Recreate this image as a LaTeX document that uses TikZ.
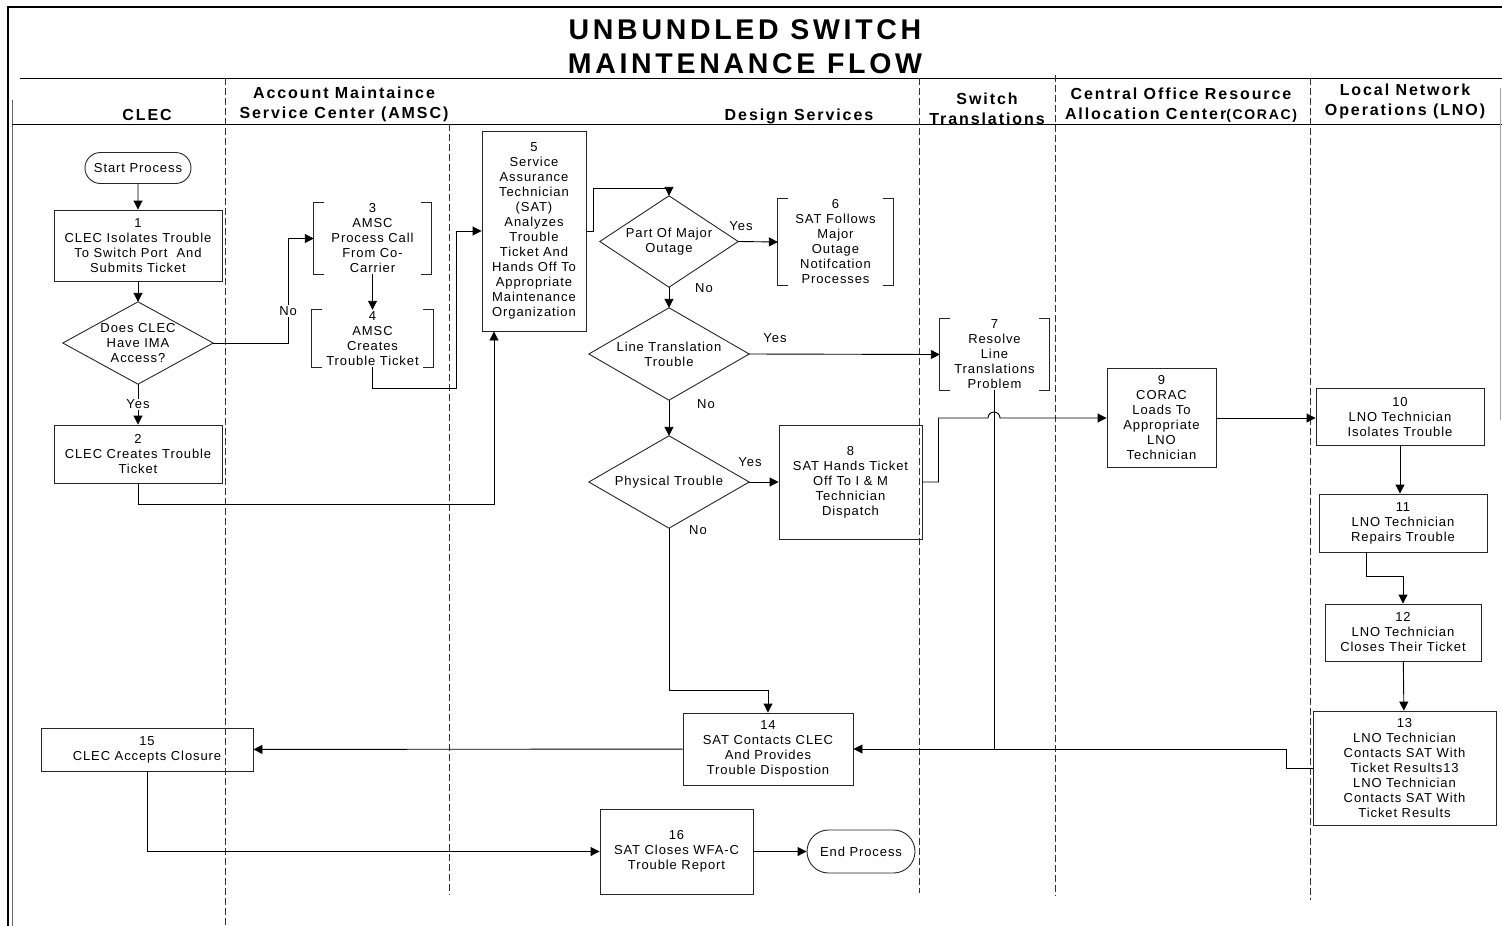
\documentclass[tikz,border=0pt]{standalone}
\usepackage{fontspec}
\setmainfont[LetterSpace=7]{Liberation Sans}
\newfontfamily\hdrfont[LetterSpace=12]{Liberation Sans}
\newfontfamily\ttlfont[LetterSpace=13]{Liberation Sans}
\usetikzlibrary{arrows.meta,shapes.misc}

% open bracket frame round a step
\newcommand{\brkt}[1]{%
  \draw[frm] ([xshift=10pt]#1.north west) -| (#1.south west) -- ++(10pt,0pt);
  \draw[frm] ([xshift=-10pt]#1.north east) -| (#1.south east) -- ++(-10pt,0pt);}
% decision diamond drawn on a plain node
\newcommand{\dmd}[1]{\draw[frm] (#1.west) -- (#1.north) -- (#1.east) -- (#1.south) -- cycle;}

\begin{document}
\begin{tikzpicture}[x=1pt,y=-1pt]
    \tikzset{
    frm/.style={draw=black!85, line width=0.9pt},
    box/.style={draw=black!85, line width=0.9pt, align=center, inner sep=0pt, font=\fontsize{13}{15}\selectfont},
    brk/.style={align=center, inner sep=0pt, font=\fontsize{13}{15}\selectfont},
    term/.style={box, rounded rectangle},
    arr/.style={-{Triangle[length=9pt,width=9pt]}, line width=0.9pt},
    lnk/.style={line width=0.9pt},
    lane/.style={line width=0.8pt, dash pattern=on 7pt off 3pt, black!80},
    hdr/.style={align=center, inner sep=0pt, font=\hdrfont\bfseries\fontsize{16}{20}\selectfont},
    lbl/.style={inner sep=1pt, fill=white, font=\fontsize{13}{15}\selectfont},
    }
    \useasboundingbox (0,0) rectangle (1502,926);

    % frame and swim lanes
    \draw[line width=1.5pt] (8,926) -- (8,7) -- (1502,7);
    \draw[line width=1pt, black!60] (12,100) -- (12,926);
    \draw[line width=1pt] (20,78) -- (1502,78);
    \draw[line width=1pt] (12,124) -- (1502,124);
    \draw[line width=1pt, black!35] (1500,88) -- (1500,420);
    \draw[lane] (225,78) -- (225,926);
    \draw[lane] (449,124) -- (449,895);
    \draw[lane] (919,78) -- (919,893);
    \draw[lane] (1055,75) -- (1055,896);
    \draw[lane] (1310,78) -- (1310,900);

    \node[align=center, inner sep=0pt, font=\ttlfont\bfseries\fontsize{28.5}{34}\selectfont] (title) at (745,47) {UNBUNDLED SWITCH\\MAINTENANCE FLOW};
    \node[hdr, anchor=base] (hclec) at (147,120) {CLEC};
    \node[hdr] (hamsc) at (344,104) {Account Maintaince\\Service Center (AMSC)};
    \node[hdr, anchor=base] (hdes) at (799,120) {Design Services};
    \node[hdr] (hsw) at (987,109) {Switch\\Translations};
    \node[hdr] (hcor) at (1181,105.5) {Central Office Resource\\Allocation Center{\fontsize{14}{20}\selectfont(CORAC)}};
    \node[hdr] (hlno) at (1405,101.5) {Local Network\\Operations (LNO)};

    % steps
    \node[term, minimum width=106pt, minimum height=31pt] (start) at (138,168) {Start Process};
    \node[box, minimum width=168pt, minimum height=71pt] (s1) at (138,245.5) {1\\CLEC Isolates Trouble\\To Switch Port~ And\\Submits Ticket};
    \node[brk, minimum width=150pt, minimum height=82pt] (q1) at (138,343) {Does CLEC\\Have IMA\\Access?};
    \node[box, minimum width=168pt, minimum height=58pt] (s2) at (138,454) {2\\CLEC Creates Trouble\\Ticket};
    \node[brk, minimum width=117pt, minimum height=71pt] (s3) at (372.5,238.5) {3\\AMSC\\Process Call\\From Co-\\Carrier};
    \node[brk, minimum width=121pt, minimum height=57pt] (s4) at (372.5,338.5) {4\\AMSC\\Creates\\Trouble Ticket};
    \node[box, minimum width=104pt, minimum height=200pt] (s5) at (534,231) {5\\Service\\Assurance\\Technician\\(SAT)\\Analyzes\\Trouble\\Ticket And\\Hands Off To\\Appropriate\\Maintenance\\Organization};
    \node[brk, minimum width=138pt, minimum height=91pt] (q2) at (669,241.5) {Part Of Major\\Outage};
    \node[brk, minimum width=115pt, minimum height=86pt] (s6) at (835.5,242) {6\\SAT Follows\\Major\\Outage\\Notifcation\\Processes};
    \node[brk, minimum width=160pt, minimum height=92pt] (q3) at (669,354) {Line Translation\\Trouble};
    \node[brk, minimum width=160pt, minimum height=92pt] (q4) at (669,482) {Physical Trouble};
    \node[brk, minimum width=109pt, minimum height=71pt] (s7) at (994.5,354.5) {7\\Resolve\\Line\\Translations\\Problem};
    \node[box, minimum width=143pt, minimum height=114pt] (s8) at (850.5,482) {8\\SAT Hands Ticket\\Off To I \& M\\Technician\\Dispatch};
    \node[box, minimum width=109pt, minimum height=99pt] (s9) at (1161.5,418) {9\\CORAC\\Loads To\\Appropriate\\LNO\\Technician};
    \node[box, minimum width=168pt, minimum height=57pt] (s10) at (1400,417) {10\\LNO Technician\\Isolates Trouble};
    \node[box, minimum width=168pt, minimum height=58pt] (s11) at (1403,523) {11\\LNO Technician\\Repairs Trouble};
    \node[box, minimum width=156pt, minimum height=57pt] (s12) at (1403,632.5) {12\\LNO Technician\\Closes Their Ticket};
    \node[box, minimum width=183pt, minimum height=114pt] (s13) at (1404.5,768) {13\\LNO Technician\\Contacts SAT With\\Ticket Results13\\LNO Technician\\Contacts SAT With\\Ticket Results};
    \node[box, minimum width=170pt, minimum height=72pt] (s14) at (768,749) {14\\SAT Contacts CLEC\\And Provides\\Trouble Dispostion};
    \node[box, minimum width=212pt, minimum height=43pt] (s15) at (147,749.5) {15\\CLEC Accepts Closure};
    \node[box, minimum width=153pt, minimum height=85pt] (s16) at (676.5,851.5) {16\\SAT Closes WFA-C\\Trouble Report};
    \node[term, minimum width=108pt, minimum height=43pt] (stop) at (861,851.5) {End Process};

    \dmd{q1} \dmd{q2} \dmd{q3} \dmd{q4}
    \brkt{s3} \brkt{s4} \brkt{s6} \brkt{s7}

    % flow
    \draw[arr] (start) -- (s1);
    \draw[arr] (s1) -- (q1.north);
    \draw[arr] (q1.south) -- node[lbl] {Yes} (s2);
    \draw[arr] (q1.east) -- ++(75,0) |- node[lbl, pos=0.153] {No} (s3.west);
    \draw[arr] (s3) -- (s4);
    \draw[arr] (s4.south) |- (456,388) |- (s5.west);
    \draw[arr] (s2.south) |- (494,504) -- ([xshift=-40pt]s5.south);
    \draw[arr] (s5.east) -- ++(7,0) |- ([yshift=7pt]q2.north) -- (q2.north);
    \draw[arr] (q2.east) -- (s6.west);
    \draw[arr] (q2.south) -- (q3.north);
    \draw[arr] (q3.east) -- (s7.west);
    \draw[arr] (q3.south) -- (q4.north);
    \draw[arr] (q4.east) -- (s8.west);
    \draw[arr] (q4.south) |- ([yshift=22pt]s14.north) -- (s14.north);
    \draw[lnk] (s7.south) -- (s7.south |- s14.east);
    \draw[arr] (s8.east) -- ++(16,0) |- (988,418) arc[start angle=180, end angle=0, radius=6pt] -- (s9.west);
    \draw[arr] (s9.east) -- (s9.east -| s10.west);
    \draw[arr] (s10.south) -- (s10.south |- s11.north);
    \draw[arr] ([xshift=-37pt]s11.south) |- ([yshift=27pt]s12.north) -- (s12.north);
    \draw[arr] (s12) -- (s13);
    \draw[arr] (s13.west) -- ++(-26,0) |- (s14.east);
    \draw[arr] (s14) -- (s15);
    \draw[arr] (s15.south) |- (s16.west);
    \draw[arr] (s16) -- (stop);

    \node[lbl] (y2) at (741,226) {Yes};
    \node[lbl] (n2) at (704,288) {No};
    \node[lbl] (y3) at (775,338) {Yes};
    \node[lbl] (n3) at (706,404) {No};
    \node[lbl] (y4) at (750,462) {Yes};
    \node[lbl] (n4) at (698,530) {No};
\end{tikzpicture}
\end{document}
